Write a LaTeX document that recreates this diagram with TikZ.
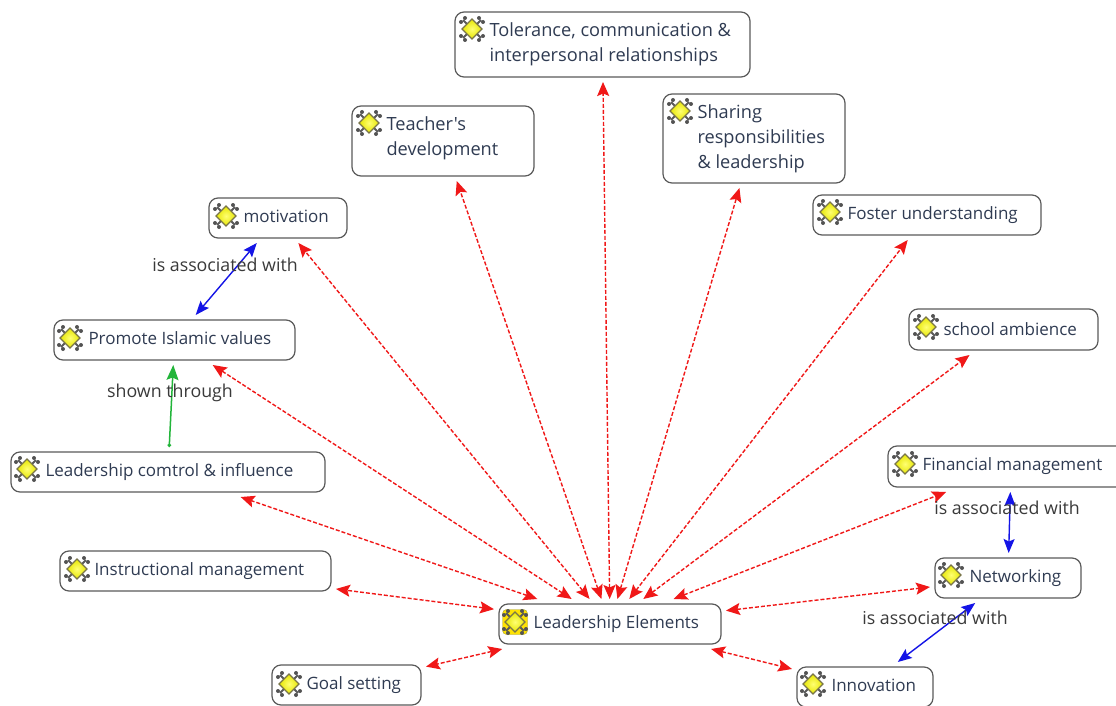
\documentclass[tikz,border=0pt]{standalone}
\usepackage{fontspec}
\setmainfont{Open Sans}[Ligatures=TeXOff]
\usetikzlibrary{arrows.meta}
\definecolor{nodetext}{HTML}{2F3B52}
\definecolor{labeltext}{HTML}{3A3A3A}
\definecolor{boxline}{HTML}{5A5A5A}
\definecolor{redline}{HTML}{F01818}
\definecolor{blueline}{HTML}{1414E6}
\definecolor{greenline}{HTML}{22B53A}
\tikzset{
  x=1pt,y=-1pt,
  concept/.style n args={2}{draw=boxline,line width=1.2pt,rounded corners=9pt,fill=white,
    text width=#1 pt,minimum height=#2 pt,inner xsep=0pt,inner ysep=0pt,outer sep=5pt,
    align=flush left,text=nodetext,font=\fontsize{17}{25}\selectfont,
    execute at begin node={\leftskip=34.5pt\relax}},
  large/.style={font=\fontsize{18.2}{25}\selectfont},
  raised/.style={execute at end node={\par\vspace{#1}}},
  linklabel/.style={text=labeltext,font=\fontsize{17.8}{20}\selectfont,inner sep=0pt},
  redlink/.style={draw=redline,line width=1.4pt,dash pattern=on 4pt off 2pt,
    {Stealth[length=14pt,width=12pt,inset=2.5pt,fill=redline]}-{Stealth[length=14pt,width=12pt,inset=2.5pt,fill=redline]}},
  bluelink/.style={draw=blueline,line width=1.4pt,
    {Stealth[length=14pt,width=11pt,inset=2.5pt]}-{Stealth[length=14pt,width=11pt,inset=2.5pt]}},
  greenlink/.style={draw=greenline,line width=1.5pt,
    {Circle[length=3.5pt]}-{Stealth[length=15pt,width=12pt,inset=2.5pt]}},
  icon/.pic={
    \draw[gray!70!black,line width=2pt] (-9,-9)--(9,9) (-9,9)--(9,-9);
    \foreach \a/\b in {-11/-7,-7/-11,11/-7,7/-11,-11/7,-7/11,11/7,7/11}
      \fill[gray!65!black] (\a,\b) circle (2);
    \draw[draw=black!60!yellow,line width=1.3pt,inner color=yellow!55!white,outer color=yellow!90!black]
      (0,-10)--(10,0)--(0,10)--(-10,0)--cycle;
  },
  mainicon/.pic={
    \fill[rounded corners=4pt,fill=yellow!85!orange,draw=black!40!yellow] (-12.5,-12.5) rectangle (12.5,12.5);
    \pic {icon};
  },
}
\begin{document}
\begin{tikzpicture}
\useasboundingbox (0,0) rectangle (1116,706);
\fill[white] (0,0) rectangle (1116,706);
% nodes
\node[concept={295}{65},large] (tol) at (602.5,44.5) {Tolerance, communication \&\\interpersonal relationships};
\node[concept={182}{70},large,raised=5pt] (tea) at (443,141) {Teacher's\\development};
\node[concept={182}{89},large] (sha) at (754,138.5) {Sharing\\responsibilities\\\& leadership};
\node[concept={138}{40},raised=3pt] (mot) at (278,218) {motivation};
\node[concept={228}{40}] (fos) at (927,215) {Foster understanding};
\node[concept={189}{41},raised=1pt] (sch) at (1003.5,329.5) {school ambience};
\node[concept={241}{40},raised=3pt] (pro) at (174.5,340) {Promote Islamic values};
\node[concept={314}{40}] (con) at (168,472) {Leadership comtrol \& influence};
\node[concept={271}{40}] (ins) at (195.5,571) {Instructional management};
\node[concept={246}{41}] (fin) at (1011,466.5) {Financial management};
\node[concept={146}{40}] (net) at (1008,578) {Networking};
\node[concept={222}{40}] (lea) at (610,624) {Leadership Elements};
\node[concept={149}{40}] (goa) at (346.5,685) {Goal setting};
\node[concept={136}{40},raised=3pt] (inn) at (865,687) {Innovation};
% icons
\pic at (472,29) {icon};
\pic at (369,123) {icon};
\pic at (680,111) {icon};
\pic at (226,216) {icon};
\pic at (830,212) {icon};
\pic at (926,327) {icon};
\pic at (70,338) {icon};
\pic at (27,469) {icon};
\pic at (77,569) {icon};
\pic at (905,464) {icon};
\pic at (951,575) {icon};
\pic at (515,622) {mainicon};
\pic at (289,684) {icon};
\pic at (813,684) {icon};
% red links
\foreach \n in {tol,tea,sha,mot,fos,sch,pro,con,ins,goa,fin,net,inn}
  \draw[redlink] (lea) -- (\n);
% other links
\draw[bluelink] (mot) -- (pro);
\draw[bluelink] (fin) -- (net);
\draw[bluelink] (net) -- (inn);
\draw[greenlink] (con) -- (pro);
% labels
\node[linklabel] (l1) at (225,265) {is associated with};
\node[linklabel] (l2) at (170,393) {shown through};
\node[linklabel] (l3) at (1007,508) {is associated with};
\node[linklabel] (l4) at (935,618) {is associated with};
\end{tikzpicture}
\end{document}
